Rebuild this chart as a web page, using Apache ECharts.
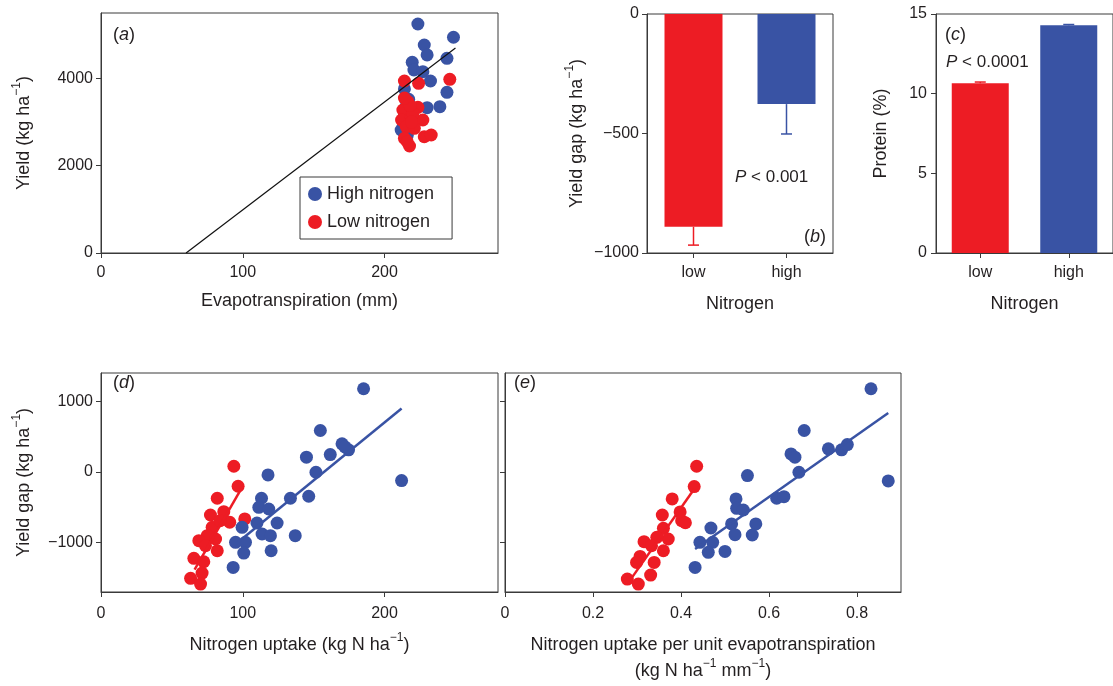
<!DOCTYPE html>
<html>
<head>
<meta charset="utf-8">
<script src="https://cdn.jsdelivr.net/npm/echarts@6/dist/echarts.min.js"></script>
<style>
  html, body { margin: 0; padding: 0; background: #fff; }
  #chart { width: 1113px; height: 686px; }
</style>
</head>
<body>
<div id="chart"></div>
<script>
// ---- (a) yield vs evapotranspiration: [ET (mm), yield (kg/ha)]
const yieldHigh = [
  [223.5, 5248], [248.6, 4944], [228, 4767], [230, 4540], [219.5, 4371],
  [244, 4462], [220.7, 4194], [227, 4156], [232.4, 3942], [214, 3759],
  [244, 3683], [217, 3523], [230, 3331], [239, 3353], [211.7, 2819],
  [214, 3150], [213, 3000], [216, 2700], [215, 3350]
];
const yieldLow = [
  [214, 3942], [224, 3889], [246, 3981], [216.4, 3468], [223.5, 3339],
  [212.9, 3277], [227, 3048], [212, 3048], [218.8, 3124], [215.3, 2895],
  [228, 2666], [232.9, 2704], [214, 2628], [217.6, 2452], [220, 3200],
  [218, 3380], [221, 2857], [216, 2550], [214, 3550], [219, 3000]
];
// water-limited yield boundary line: [ET, yield] end points
const boundaryLine = [[60, 0], [250, 4700]];

// ---- (b) yield gap and (c) grain protein by nitrogen level
const nitrogenLevels = ['low', 'high'];
const gapMean = [-890, -377];
const gapErr = [77, 125];
const proteinMean = [10.65, 14.3];
const proteinErr = [0.08, 0.04];

// ---- (d) yield gap vs nitrogen uptake: [N uptake (kg N/ha), gap (kg/ha)]
const uptakeLow = [
  [93.7, 80], [96.7, -203], [82, -373], [86.6, -563], [77.2, -610],
  [101.4, -666], [90.8, -713], [78.4, -784], [74.9, -903], [69, -974],
  [80.8, -950], [73.7, -1045], [82, -1116], [65.5, -1224], [72.5, -1272],
  [71.3, -1432], [63.2, -1507], [70.2, -1588], [84, -690]
];
const uptakeHigh = [
  [185.2, 1177], [212, -123], [154.7, 586], [170, 397], [174.6, 312],
  [172, 355], [161.7, 245], [144.9, 208], [151.6, -5], [117.8, -43],
  [133.6, -373], [146.5, -345], [113.2, -373], [111.3, -501], [118.3, -525],
  [124.2, -723], [110, -723], [99.5, -784], [113.6, -879], [119.5, -903],
  [137, -903], [94.9, -997], [101.9, -997], [100.7, -1149], [120, -1116],
  [93.2, -1352]
];
// fitted lines: [slope, intercept, xFrom, xTo]
const uptakeLowFit = [34.7, -3673, 66, 100];
const uptakeHighFit = [16.4, -2580, 94, 212];

// ---- (e) yield gap vs N uptake per unit ET: [kg N/ha/mm, gap (kg/ha)]
const ratioLow = [
  [0.4356, 80], [0.430, -208], [0.380, -383], [0.3575, -610], [0.4015, -690],
  [0.398, -567], [0.360, -799], [0.371, -950], [0.345, -926], [0.316, -988],
  [0.333, -1045], [0.360, -1116], [0.307, -1196], [0.299, -1281], [0.339, -1281],
  [0.331, -1461], [0.278, -1517], [0.303, -1588], [0.41, -720]
];
const ratioHigh = [
  [0.8318, 1177], [0.871, -128], [0.680, 586], [0.650, 255], [0.659, 208],
  [0.735, 326], [0.765, 312], [0.778, 387], [0.668, -5], [0.551, -52],
  [0.6175, -373], [0.634, -350], [0.525, -383], [0.5265, -515], [0.5417, -539],
  [0.570, -737], [0.515, -737], [0.468, -794], [0.5227, -889], [0.562, -893],
  [0.443, -997], [0.472, -997], [0.500, -1125], [0.462, -1139], [0.432, -1352]
];
const ratioLowFit = [8870, -4055, 0.29, 0.43];
const ratioHighFit = [4383, -2985, 0.432, 0.871];

// tick positions
const ticksET = [0, 100, 200];
const ticksYield = [0, 2000, 4000];
const ticksUptake = [0, 100, 200];
const ticksRatio = [0, 0.2, 0.4, 0.6, 0.8];
const ticksGap = [-1000, 0, 1000];

const RED = '#ED1C24';
const BLUE = '#3953A4';
const INK = '#231F20';
const AXIS = '#3a3a3a';
const FONT = '"Liberation Sans", Arial, sans-serif';

function fitPoints(fit) {
  const [m, b, x0, x1] = fit;
  return [[x0, m * x0 + b], [x1, m * x1 + b]];
}
function minus(v) {
  return v < 0 ? '\u2212' + Math.abs(v) : String(v);
}

const nameRich = {
  t: { fontSize: 18, fontFamily: FONT, color: INK, lineHeight: 26 },
  s: { fontSize: 12, fontFamily: FONT, color: INK, lineHeight: 14, verticalAlign: 'top' }
};

function valueAxis(grid, min, max, ticks, extra) {
  return Object.assign({
    type: 'value', gridIndex: grid, min: min, max: max,
    axisLine: { show: true, onZero: false, lineStyle: { color: AXIS, width: 1 } },
    axisTick: { show: true, inside: false, length: 5, customValues: ticks, lineStyle: { color: AXIS } },
    axisLabel: { customValues: ticks, fontSize: 16, fontFamily: FONT, color: INK, margin: 8, formatter: minus },
    splitLine: { show: false },
    nameLocation: 'middle',
    nameTextStyle: { rich: nameRich }
  }, extra || {});
}
function categoryAxis(grid, name) {
  return {
    type: 'category', gridIndex: grid, data: nitrogenLevels, position: 'bottom',
    axisLine: { show: true, onZero: false, lineStyle: { color: AXIS } },
    axisTick: { show: true, alignWithLabel: true, length: 5, lineStyle: { color: AXIS } },
    axisLabel: { fontSize: 16, fontFamily: FONT, color: INK, margin: 12 },
    name: name, nameLocation: 'middle', nameGap: 38,
    nameTextStyle: { rich: nameRich }
  };
}

function errorBarRender(colors) {
  return function (params, api) {
    const i = api.value(0);
    const p0 = api.coord([i, api.value(1)]);
    const p1 = api.coord([i, api.value(2)]);
    const half = 5.5;
    const style = { stroke: colors[i], lineWidth: 1.5 };
    return {
      type: 'group',
      children: [
        { type: 'line', shape: { x1: p0[0], y1: p0[1], x2: p1[0], y2: p1[1] }, style: style },
        { type: 'line', shape: { x1: p1[0] - half, y1: p1[1], x2: p1[0] + half, y2: p1[1] }, style: style }
      ]
    };
  };
}

const barColors = [RED, BLUE];
const gapErrData = gapMean.map((m, i) => [i, m, m - gapErr[i]]);
const proteinErrData = proteinMean.map((m, i) => [i, m, m + proteinErr[i]]);

function label(x, y, text, opts) {
  return {
    type: 'text', x: x, y: y, z: 100,
    style: Object.assign({
      text: text, fill: INK, fontSize: 18, fontFamily: FONT,
      align: 'left', verticalAlign: 'middle',
      rich: {
        i: { fontStyle: 'italic', fontFamily: FONT, fill: INK, fontSize: (opts && opts.fontSize) || 18 }
      }
    }, opts || {})
  };
}

const gridStyle = { show: true, borderColor: AXIS, borderWidth: 1, backgroundColor: 'transparent', containLabel: false };

const option = {
  animation: false,
  backgroundColor: '#fff',
  grid: [
    Object.assign({ left: 101, top: 13, width: 397, height: 240 }, gridStyle),
    Object.assign({ left: 647, top: 14, width: 186, height: 239 }, gridStyle),
    Object.assign({ left: 936, top: 14, width: 186, height: 239 }, gridStyle),
    Object.assign({ left: 101, top: 373, width: 397, height: 219 }, gridStyle),
    Object.assign({ left: 505, top: 373, width: 396, height: 219 }, gridStyle)
  ],
  legend: {
    data: ['High nitrogen', 'Low nitrogen'],
    orient: 'vertical', left: 300, top: 177,
    padding: [8, 18, 8, 8], itemGap: 10,
    itemWidth: 14, itemHeight: 14, icon: 'circle',
    borderColor: AXIS, borderWidth: 1,
    textStyle: { fontSize: 18, fontFamily: FONT, color: INK },
    selectedMode: false
  },
  xAxis: [
    valueAxis(0, 0, 280, ticksET, {
      name: '{t|Evapotranspiration (mm)}', nameGap: 35,
      axisLabel: { customValues: ticksET, fontSize: 16, fontFamily: FONT, color: INK, margin: 12 }
    }),
    categoryAxis(1, '{t|Nitrogen}'),
    categoryAxis(2, '{t|Nitrogen}'),
    valueAxis(3, 0, 280, ticksUptake, {
      name: '{t|Nitrogen uptake (kg N ha}{s|\u22121}{t|)}', nameGap: 40,
      axisLabel: { customValues: ticksUptake, fontSize: 16, fontFamily: FONT, color: INK, margin: 14 }
    }),
    valueAxis(4, 0, 0.9, ticksRatio, {
      name: '{t|Nitrogen uptake per unit evapotranspiration}\n{t|(kg N ha}{s|\u22121}{t| mm}{s|\u22121}{t|)}',
      nameGap: 40,
      axisLabel: { customValues: ticksRatio, fontSize: 16, fontFamily: FONT, color: INK, margin: 14 }
    })
  ],
  yAxis: [
    valueAxis(0, 0, 5500, ticksYield, {
      name: '{t|Yield (kg ha}{s|\u22121}{t|)}', nameGap: 64, nameRotate: 90
    }),
    {
      type: 'value', gridIndex: 1, min: -1000, max: 0, interval: 500,
      axisLine: { show: true, lineStyle: { color: AXIS } },
      axisTick: { show: true, length: 5, lineStyle: { color: AXIS } },
      axisLabel: { fontSize: 16, fontFamily: FONT, color: INK, margin: 8, formatter: minus },
      splitLine: { show: false },
      name: '{t|Yield gap (kg ha}{s|\u22121}{t|)}', nameLocation: 'middle', nameGap: 57, nameRotate: 90,
      nameTextStyle: { rich: nameRich }
    },
    {
      type: 'value', gridIndex: 2, min: 0, max: 15, interval: 5,
      axisLine: { show: true, lineStyle: { color: AXIS } },
      axisTick: { show: true, length: 5, lineStyle: { color: AXIS } },
      axisLabel: { fontSize: 16, fontFamily: FONT, color: INK, margin: 9 },
      splitLine: { show: false },
      name: '{t|Protein (%)}', nameLocation: 'middle', nameGap: 42, nameRotate: 90,
      nameTextStyle: { rich: nameRich }
    },
    valueAxis(3, -1700, 1400, ticksGap, {
      name: '{t|Yield gap (kg ha}{s|\u22121}{t|)}', nameGap: 64, nameRotate: 90
    }),
    valueAxis(4, -1700, 1400, ticksGap, {
      axisLabel: { show: false, customValues: ticksGap }
    })
  ],
  series: [
    // (a)
    { name: 'High nitrogen', type: 'scatter', xAxisIndex: 0, yAxisIndex: 0, data: yieldHigh,
      symbolSize: 13, itemStyle: { color: BLUE, opacity: 1 } },
    { name: 'Low nitrogen', type: 'scatter', xAxisIndex: 0, yAxisIndex: 0, data: yieldLow,
      symbolSize: 13, itemStyle: { color: RED, opacity: 1 } },
    { name: 'boundary', type: 'line', xAxisIndex: 0, yAxisIndex: 0, data: boundaryLine,
      symbol: 'none', lineStyle: { color: '#111', width: 1.2 }, z: 5 },
    // (b)
    { name: 'gap', type: 'bar', xAxisIndex: 1, yAxisIndex: 1, barWidth: 58,
      data: gapMean.map((v, i) => ({ value: v, itemStyle: { color: barColors[i] } })) },
    { name: 'gapErr', type: 'custom', xAxisIndex: 1, yAxisIndex: 1, data: gapErrData,
      renderItem: errorBarRender(barColors), z: 4 },
    // (c)
    { name: 'protein', type: 'bar', xAxisIndex: 2, yAxisIndex: 2, barWidth: 57,
      data: proteinMean.map((v, i) => ({ value: v, itemStyle: { color: barColors[i] } })) },
    { name: 'proteinErr', type: 'custom', xAxisIndex: 2, yAxisIndex: 2, data: proteinErrData,
      renderItem: errorBarRender(barColors), z: 4 },
    // (d)
    { name: 'uptake low', type: 'scatter', xAxisIndex: 3, yAxisIndex: 3, data: uptakeLow,
      symbolSize: 13, itemStyle: { color: RED, opacity: 1 } },
    { name: 'uptake high', type: 'scatter', xAxisIndex: 3, yAxisIndex: 3, data: uptakeHigh,
      symbolSize: 13, itemStyle: { color: BLUE, opacity: 1 } },
    { name: 'uptake low fit', type: 'line', xAxisIndex: 3, yAxisIndex: 3, data: fitPoints(uptakeLowFit),
      symbol: 'none', lineStyle: { color: RED, width: 2.5 }, z: 5 },
    { name: 'uptake high fit', type: 'line', xAxisIndex: 3, yAxisIndex: 3, data: fitPoints(uptakeHighFit),
      symbol: 'none', lineStyle: { color: BLUE, width: 2.5 }, z: 5 },
    // (e)
    { name: 'ratio low', type: 'scatter', xAxisIndex: 4, yAxisIndex: 4, data: ratioLow,
      symbolSize: 13, itemStyle: { color: RED, opacity: 1 } },
    { name: 'ratio high', type: 'scatter', xAxisIndex: 4, yAxisIndex: 4, data: ratioHigh,
      symbolSize: 13, itemStyle: { color: BLUE, opacity: 1 } },
    { name: 'ratio low fit', type: 'line', xAxisIndex: 4, yAxisIndex: 4, data: fitPoints(ratioLowFit),
      symbol: 'none', lineStyle: { color: RED, width: 2.5 }, z: 5 },
    { name: 'ratio high fit', type: 'line', xAxisIndex: 4, yAxisIndex: 4, data: fitPoints(ratioHighFit),
      symbol: 'none', lineStyle: { color: BLUE, width: 2.5 }, z: 5 }
  ],
  graphic: [
    label(113, 35, '({i|a})'),
    label(826, 237, '({i|b})', { align: 'right' }),
    label(945, 35, '({i|c})'),
    label(946, 62, '{i|P} < 0.0001', { fontSize: 17 }),
    label(735, 177, '{i|P} < 0.001', { fontSize: 17 }),
    label(113, 383, '({i|d})'),
    label(514, 383, '({i|e})')
  ]
};

const chart = echarts.init(document.getElementById('chart'), null, { renderer: 'canvas' });
chart.setOption(option);
</script>
</body>
</html>
